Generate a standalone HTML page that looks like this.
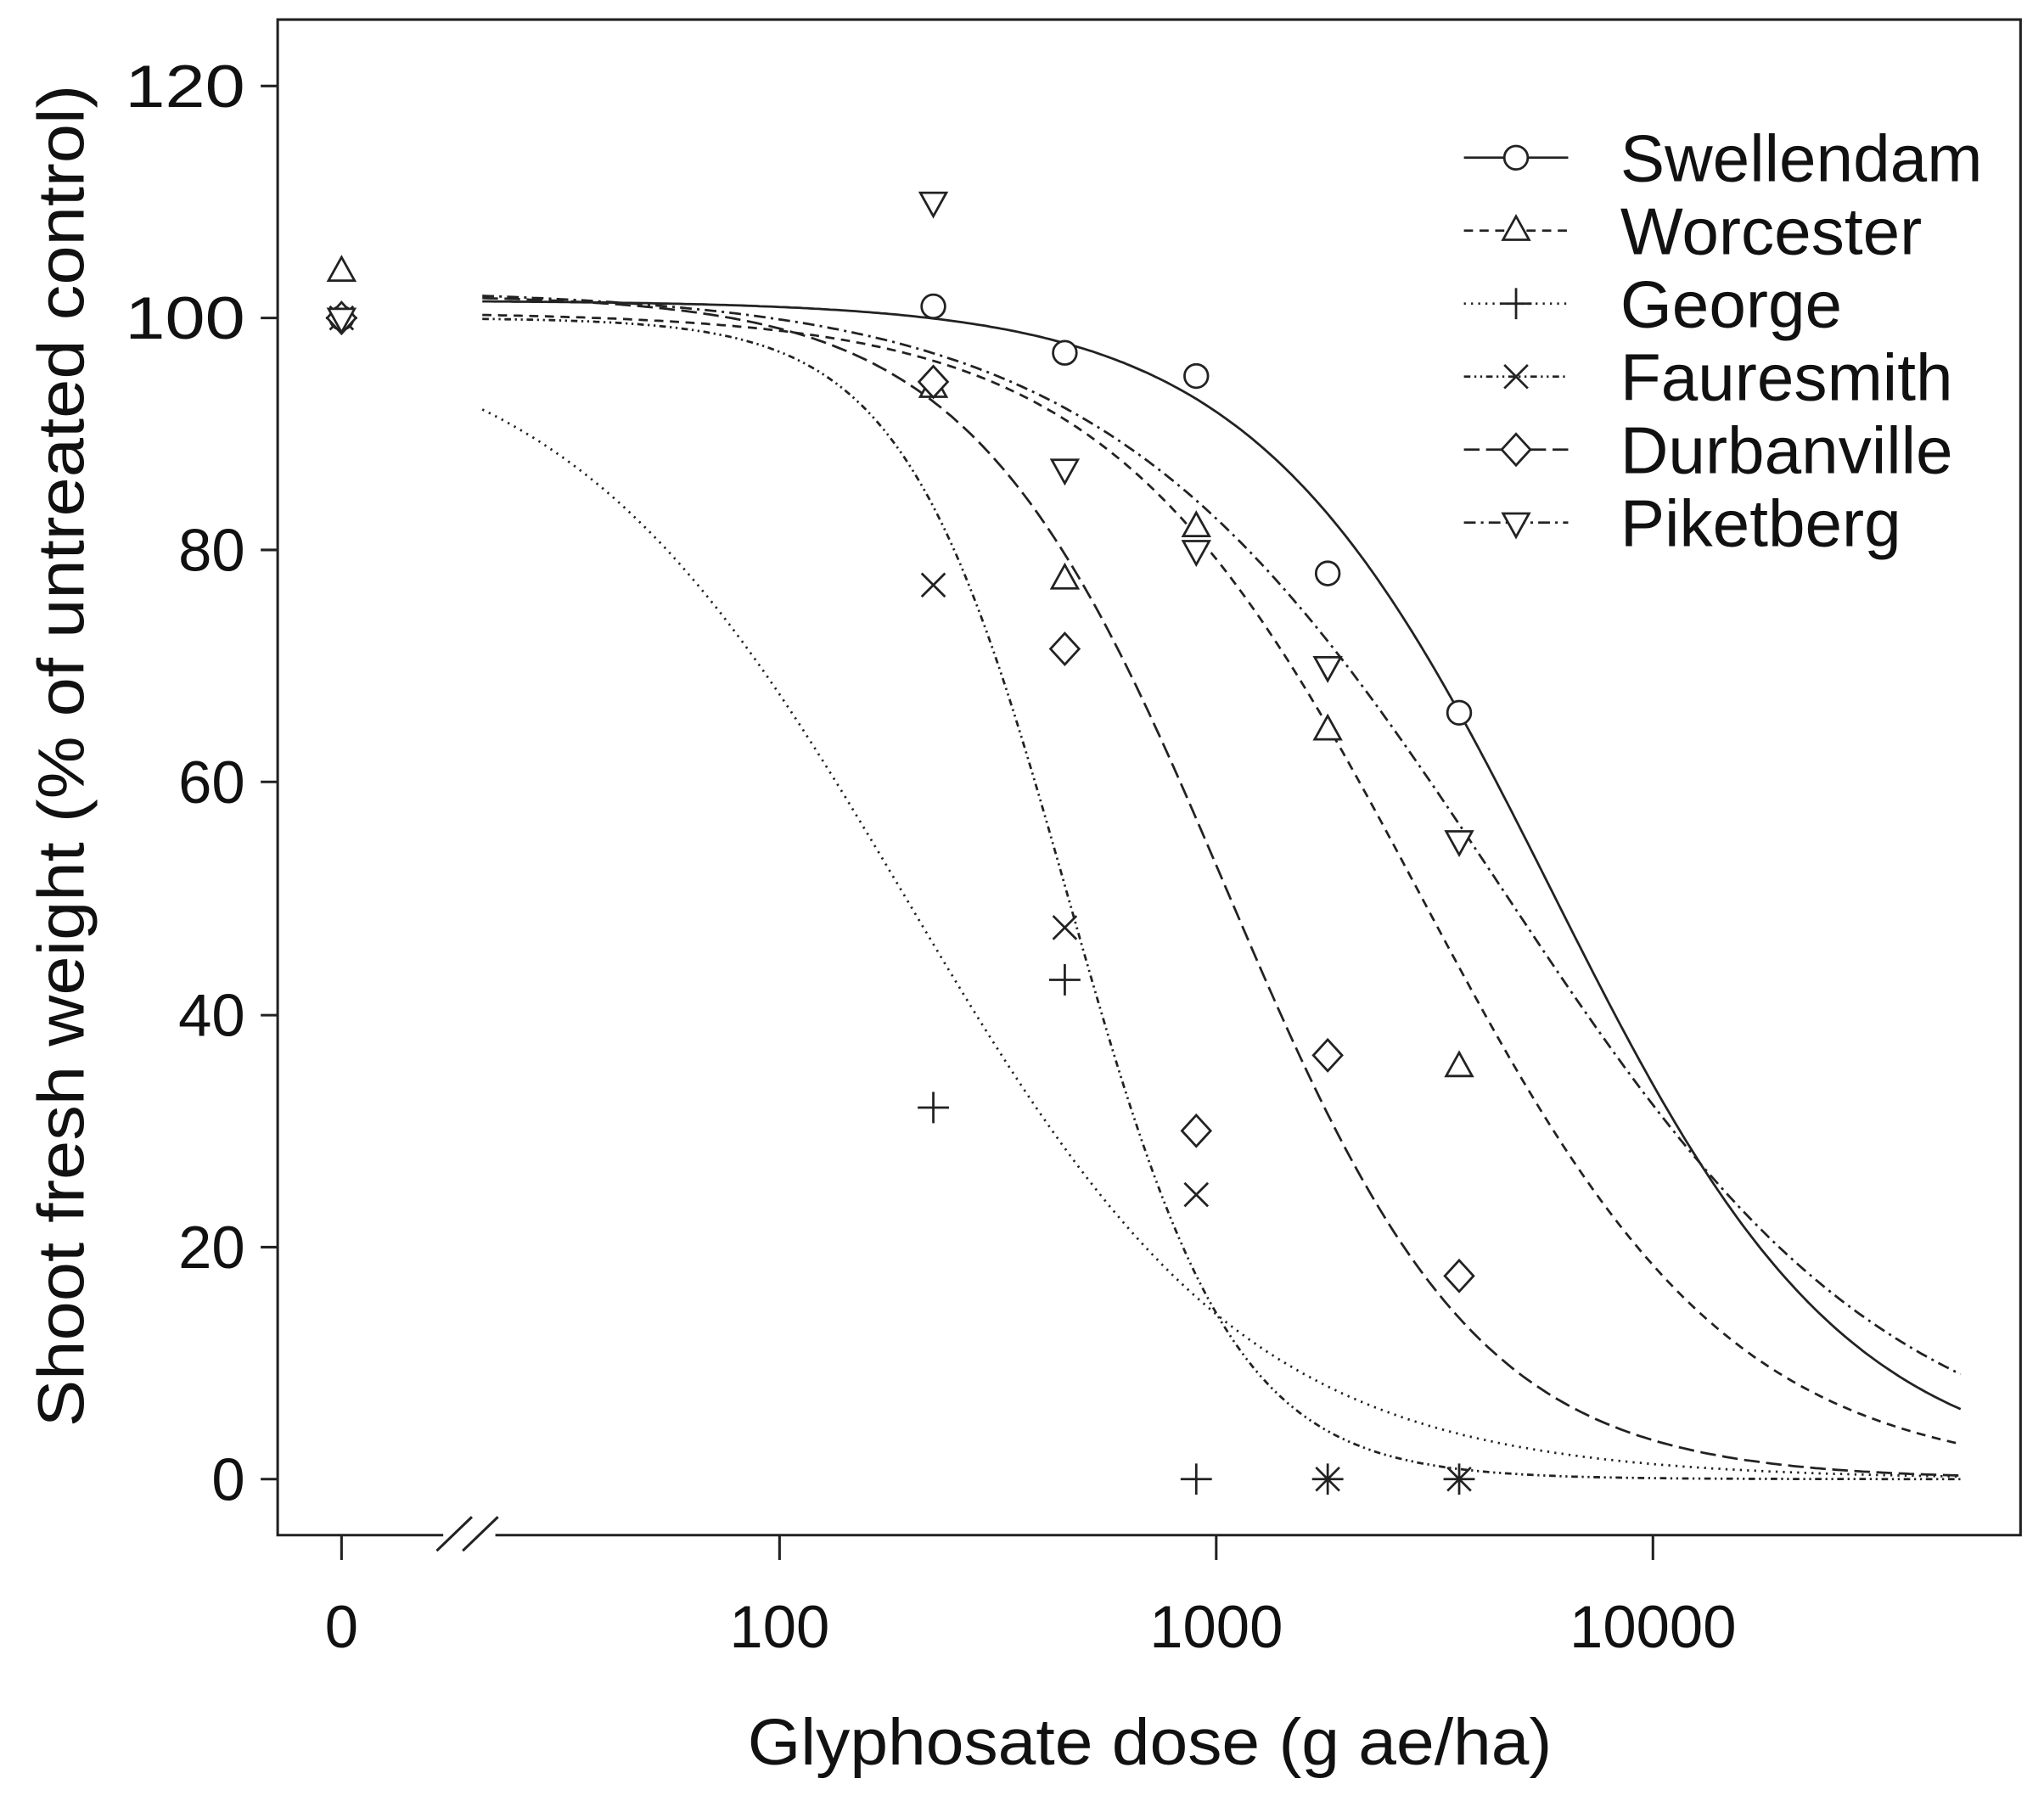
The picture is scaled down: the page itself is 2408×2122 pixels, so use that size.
<!DOCTYPE html>
<html><head><meta charset="utf-8"><style>
html,body{margin:0;padding:0;background:#fff;}
svg{display:block;}
text{font-family:"Liberation Sans",sans-serif;fill:#111;}
</style></head><body>
<svg id="s" width="2408" height="2122" viewBox="0 0 1568 1382" preserveAspectRatio="none" xmlns="http://www.w3.org/2000/svg">
<rect x="0" y="0" width="1568" height="1382" fill="#fff"/>
<g fill="none" stroke="#222" stroke-width="2">
<path d="M213,15 H1550 V1178 H213 Z"/>
<path d="M200,66H213M200,244H213M200,422H213M200,600H213M200,779H213M200,957H213M200,1135H213"/>
<path d="M262,1178V1197M598,1178V1197M933,1178V1197M1268,1178V1197"/>
</g>
<rect x="340" y="1172" width="40" height="12" fill="#fff"/>
<path d="M335,1190L362,1164M355,1190L382,1164" stroke="#222" stroke-width="2"/>
<g font-size="46" text-anchor="end">
<text x="188" y="82" textLength="92" lengthAdjust="spacingAndGlyphs">120</text><text x="188" y="260" textLength="92" lengthAdjust="spacingAndGlyphs">100</text><text x="188" y="438">80</text>
<text x="188" y="616">60</text><text x="188" y="795">40</text><text x="188" y="973">20</text><text x="188" y="1151">0</text>
</g>
<g font-size="46" text-anchor="middle">
<text x="262" y="1264">0</text><text x="598" y="1264">100</text><text x="933" y="1264">1000</text><text x="1268" y="1264">10000</text>
</g>
<text x="882" y="1354" font-size="50" text-anchor="middle" textLength="617" lengthAdjust="spacingAndGlyphs">Glyphosate dose (g ae/ha)</text>
<text transform="translate(64,580) rotate(-90)" font-size="50" text-anchor="middle" textLength="1030" lengthAdjust="spacingAndGlyphs">Shoot fresh weight (% of untreated control)</text>
<g id="curves" fill="none" stroke="#222" stroke-width="1.8"></g>
<g id="pts" fill="none" stroke="#222" stroke-width="1.8"></g>
<g id="leg" fill="none" stroke="#222" stroke-width="1.8"></g>
<g font-size="51">
<text x="1243" y="139">Swellendam</text><text x="1243" y="195">Worcester</text><text x="1243" y="251">George</text>
<text x="1243" y="307">Fauresmith</text><text x="1243" y="363">Durbanville</text><text x="1243" y="419">Piketberg</text>
</g>
</svg>
<script>
var NS="http://www.w3.org/2000/svg";
function X(d){return d===0?262:598+335*Math.log10(d/100);}
function Y(v){return 1135-v*8.91;}
function el(p,tag,a){var e=document.createElementNS(NS,tag);for(var k in a)e.setAttribute(k,a[k]);p.appendChild(e);return e;}
var S=[
 {top:101.5,bot:0,e:5850,b:1.28,dash:"",m:"o",pts:[[0,100],[225,101],[450,97],[900,95],[1800,78],[3600,66]]},
 {top:100.5,bot:0,e:2940,b:1.22,dash:"7,5",m:"t",pts:[[0,104],[225,94],[450,77.5],[900,82],[1800,64.5],[3600,35.5]]},
 {top:100,bot:0,e:195,b:1.1,dash:"1.5,4",m:"+",pts:[[0,100],[225,32],[450,43],[900,0],[1800,0],[3600,0]]},
 {top:100,bot:0,e:459,b:2.3,dash:"5,3,1.5,3,1.5,3",m:"x",pts:[[0,100],[225,77],[450,47.5],[900,24.5],[1800,0],[3600,0]]},
 {top:102,bot:0,e:1050,b:1.5,dash:"12,5",m:"d",pts:[[0,100],[225,94.5],[450,71.5],[900,30],[1800,36.5],[3600,17.5]]},
 {top:102.5,bot:0,e:4440,b:0.96,dash:"9,4,2,4",m:"v",pts:[[0,100],[225,110],[450,87],[900,80],[1800,70],[3600,55]]}
];
function marker(g,m,x,y){
 if(m=="o")el(g,"circle",{cx:x,cy:y,r:9,fill:"#fff"});
 else if(m=="t")el(g,"path",{d:"M"+x+","+(y-11)+"L"+(x+10)+","+(y+7)+"L"+(x-10)+","+(y+7)+"Z",fill:"#fff"});
 else if(m=="v")el(g,"path",{d:"M"+x+","+(y+11)+"L"+(x+10)+","+(y-7)+"L"+(x-10)+","+(y-7)+"Z",fill:"#fff"});
 else if(m=="d")el(g,"path",{d:"M"+x+","+(y-12)+"L"+(x+11)+","+y+"L"+x+","+(y+12)+"L"+(x-11)+","+y+"Z",fill:"#fff"});
 else if(m=="+")el(g,"path",{d:"M"+(x-12)+","+y+"H"+(x+12)+"M"+x+","+(y-12)+"V"+(y+12)});
 else if(m=="x")el(g,"path",{d:"M"+(x-9)+","+(y-9)+"L"+(x+9)+","+(y+9)+"M"+(x+9)+","+(y-9)+"L"+(x-9)+","+(y+9)});
}
var cg=document.getElementById("curves"),pg=document.getElementById("pts"),lg=document.getElementById("leg");
S.forEach(function(s,i){
 var d="";
 for(var px=370;px<=1505;px+=3){
  var dose=100*Math.pow(10,(px-598)/335);
  var v=s.bot+(s.top-s.bot)/(1+Math.pow(dose/s.e,s.b));
  d+=(px==370?"M":"L")+px+","+Y(v).toFixed(1);
 }
 var a={d:d};if(s.dash)a["stroke-dasharray"]=s.dash;
 el(cg,"path",a);
 s.pts.forEach(function(p){marker(pg,s.m,X(p[0]),Y(p[1]));});
 var ly=121+56*i;
 var la={d:"M1123,"+ly+"H1203"};if(s.dash)la["stroke-dasharray"]=s.dash;
 el(lg,"path",la);
 marker(lg,s.m,1163,ly);
});
</script>
</body></html>
